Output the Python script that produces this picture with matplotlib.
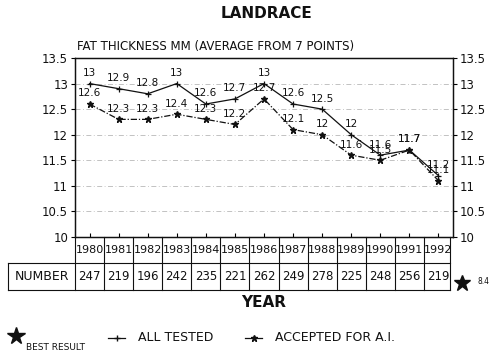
import matplotlib
matplotlib.use("Agg")
import matplotlib.pyplot as plt
from matplotlib.lines import Line2D

years = [1980, 1981, 1982, 1983, 1984, 1985, 1986, 1987, 1988, 1989, 1990, 1991, 1992]
all_tested = [13, 12.9, 12.8, 13, 12.6, 12.7, 13, 12.6, 12.5, 12, 11.6, 11.7, 11.2]
accepted = [12.6, 12.3, 12.3, 12.4, 12.3, 12.2, 12.7, 12.1, 12, 11.6, 11.5, 11.7, 11.1]
numbers = [247, 219, 196, 242, 235, 221, 262, 249, 278, 225, 248, 256, 219]
best_result = "8.4"
yticks = [10, 10.5, 11, 11.5, 12, 12.5, 13, 13.5]

plt.rcParams['font.family'] = ['DejaVu Sans']
ink = '#111111'

fig = plt.figure(figsize=(5, 3.58), dpi=100)
ax = fig.add_axes([0.15, 0.338, 0.756, 0.5])
xs = list(range(len(years)))

ax.plot(xs, all_tested, color=ink, lw=0.9, marker='+', ms=5, mew=0.9)
ax.plot(xs, accepted, color=ink, lw=0.9, marker='*', ms=5,
        linestyle=(0, (5, 1.5, 1, 1.5)))

# value labels; where both series meet (1991) the two labels coincide
for series in (all_tested, accepted):
    for x, v in zip(xs, series):
        ax.annotate(f"{v:g}", (x, v), xytext=(0, 4), textcoords='offset points',
                    ha='center', va='bottom', fontsize=7.5, color=ink)

ax.set_xlim(-0.5, 12.5)
ax.set_ylim(10, 13.5)
ax.set_yticks(yticks)
ax.set_yticklabels([f"{t:g}" for t in yticks], fontsize=8.5, color=ink)
ax.tick_params(axis='y', direction='out', length=3, width=0.8, pad=2)
ax.set_xticks(xs)
ax.set_xticklabels([])
ax.tick_params(axis='x', direction='in', length=3, width=0.8)
for y in yticks[1:-1]:
    ax.axhline(y, color='0.72', lw=0.6, linestyle=(0, (6, 3, 1, 3)), zorder=0)
for s in ax.spines.values():
    s.set_color(ink)
    s.set_linewidth(0.9)

ax2 = ax.twinx()
ax2.set_ylim(10, 13.5)
ax2.set_yticks(yticks)
ax2.set_yticklabels([f"{t:g}" for t in yticks], fontsize=8.5, color=ink)
ax2.tick_params(axis='y', direction='out', length=3, width=0.8, pad=2)
for s in ax2.spines.values():
    s.set_color(ink)
    s.set_linewidth(0.9)

# table below the axes (x in data units, y in axes fraction)
tr = ax.get_xaxis_transform()
y_mid = -0.145
y_bot = -0.296
x_left = -2.8
x_right = 12.4
lk = dict(color=ink, lw=0.8, transform=tr, clip_on=False)
ax.plot([x_left, x_right], [y_mid, y_mid], **lk)
ax.plot([x_left, x_right], [y_bot, y_bot], **lk)
ax.plot([x_left, x_left], [y_mid, y_bot], **lk)
for k in range(len(years) + 1):
    xb = min(k - 0.5, x_right)
    ax.plot([xb, xb], [0, y_bot], **lk)
for x, yr, n in zip(xs, years, numbers):
    ax.text(x, -0.075, str(yr), transform=tr, ha='center', va='center',
            fontsize=8, color=ink)
    ax.text(x, -0.222, str(n), transform=tr, ha='center', va='center',
            fontsize=8.5, color=ink)
ax.text((x_left - 0.5) / 2, -0.222, "NUMBER", transform=tr, ha='center',
        va='center', fontsize=9, color=ink)

# best result star at the right of the table
fig.add_artist(Line2D([0.924], [0.21], marker='*', ms=12, color=ink,
                      transform=fig.transFigure))
fig.text(0.955, 0.215, best_result, fontsize=5.5, ha='left', va='center', color=ink)

fig.text(0.534, 0.961, "LANDRACE", fontsize=11, fontweight='bold',
         ha='center', va='center', color=ink)
fig.text(0.154, 0.869, "FAT THICKNESS MM (AVERAGE FROM 7 POINTS)", fontsize=8.5,
         ha='left', va='center', color=ink)
fig.text(0.527, 0.154, "YEAR", fontsize=11, fontweight='bold',
         ha='center', va='center', color=ink)

# legend row
fig.add_artist(Line2D([0.032], [0.062], marker='*', ms=13, color=ink,
                      transform=fig.transFigure))
fig.text(0.052, 0.03, "BEST RESULT", fontsize=6.5, ha='left', va='center', color=ink)
fig.add_artist(Line2D([0.216, 0.25], [0.056, 0.056], color=ink, lw=0.9,
                      transform=fig.transFigure))
fig.add_artist(Line2D([0.233], [0.056], marker='+', ms=5, color=ink,
                      transform=fig.transFigure))
fig.text(0.276, 0.056, "ALL TESTED", fontsize=9, ha='left', va='center', color=ink)
fig.add_artist(Line2D([0.49, 0.524], [0.056, 0.056], color=ink, lw=0.9,
                      transform=fig.transFigure))
fig.add_artist(Line2D([0.507], [0.056], marker='*', ms=5, color=ink,
                      transform=fig.transFigure))
fig.text(0.55, 0.056, "ACCEPTED FOR A.I.", fontsize=9, ha='left', va='center', color=ink)

fig.savefig("out.png", dpi=100)
